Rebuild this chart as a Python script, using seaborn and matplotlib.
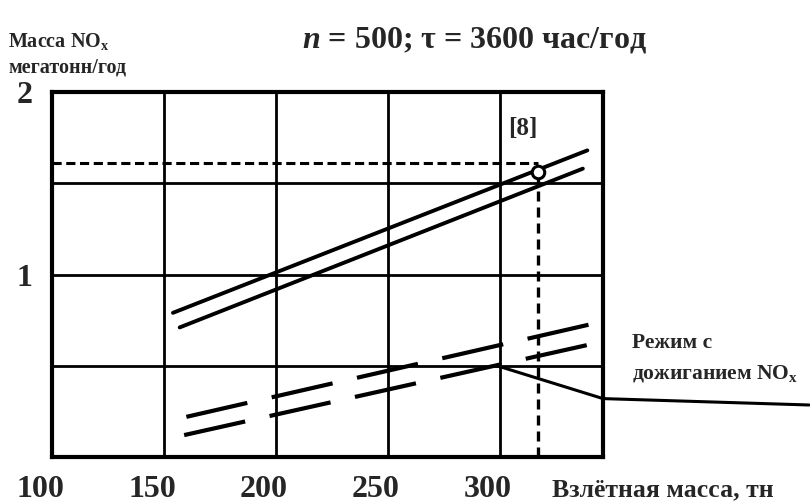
import matplotlib
matplotlib.use("Agg")
import matplotlib.pyplot as plt
import matplotlib.transforms as mtransforms
import pandas as pd
import seaborn as sns

# ---- data ----
solid_upper_x = [154, 339]
solid_upper_y = [0.79, 1.68]
solid_lower_x = [157, 337]
solid_lower_y = [0.71, 1.58]
dashed_upper_x = [160, 345]
dashed_upper_y = [0.22, 0.74]
dashed_lower_x = [159, 345]
dashed_lower_y = [0.12, 0.63]
design_x = [317]
design_y = [1.56]
design_level = 1.61
x_ticks = [100, 150, 200, 250, 300]
x_tick_labels = ["100", "150", "200", "250", "300"]
y_ticks = [1, 2]
y_tick_labels = ["1", "2"]
y_minor_grid = [0.5, 1.5]
leader_x = [298.7, 346, 438]
leader_y = [0.50, 0.32, 0.285]

sns.set_theme(style="white")
plt.rcParams["font.family"] = ["Liberation Serif", "DejaVu Serif"]
plt.rcParams["font.weight"] = "bold"
plt.rcParams["mathtext.fontset"] = "custom"
plt.rcParams["mathtext.rm"] = "Liberation Serif:bold"
plt.rcParams["mathtext.it"] = "Liberation Serif:italic:bold"
plt.rcParams["mathtext.bf"] = "Liberation Serif:bold"

fig = plt.figure(figsize=(8.1, 5.03), dpi=100)
ax = fig.add_axes([52 / 810, 1 - 457 / 503, (603 - 52) / 810, (457 - 92) / 503])

def df(x, y):
    return pd.DataFrame({"x": x, "y": y})

sns.lineplot(data=df(solid_upper_x, solid_upper_y), x="x", y="y", ax=ax,
             color="black", lw=2.8, sort=False, estimator=None, zorder=3)
sns.lineplot(data=df(solid_lower_x, solid_lower_y), x="x", y="y", ax=ax,
             color="black", lw=2.8, sort=False, estimator=None, zorder=3)
sns.lineplot(data=df(dashed_upper_x, dashed_upper_y), x="x", y="y", ax=ax,
             color="black", lw=3.0, sort=False, estimator=None, zorder=3,
             linestyle=(0, (15, 6)))
sns.lineplot(data=df(dashed_lower_x, dashed_lower_y), x="x", y="y", ax=ax,
             color="black", lw=3.0, sort=False, estimator=None, zorder=3,
             linestyle=(0, (15, 6)))

# design point with its dashed reference lines
ax.plot([100, design_x[0]], [design_level, design_level], color="black",
        lw=2.2, linestyle=(0, (3, 1.5)), zorder=2)
ax.plot([design_x[0], design_x[0]], [0, design_y[0]], color="black",
        lw=2.4, linestyle=(0, (3, 1.8)), zorder=2)
ax.plot(design_x, design_y, "o", mfc="white", mec="black", ms=9, mew=2.2, zorder=6)

# leader line for the annotation
ax.plot(leader_x, leader_y, color="black", lw=2.2, clip_on=False, zorder=4)

ax.set_xlim(100, 346)
ax.set_ylim(0, 2)
ax.set_xticks(x_ticks)
ax.set_xticklabels(x_tick_labels, fontsize=23, fontweight="bold")
ax.set_yticks(y_ticks)
ax.set_yticklabels(y_tick_labels, fontsize=23, fontweight="bold")
ax.set_yticks(y_minor_grid, minor=True)
ax.tick_params(axis="both", which="both", length=0)
ax.tick_params(axis="x", pad=13)
ax.tick_params(axis="y", pad=14)
ax.grid(True, which="both", color="black", lw=2.0)
ax.set_axisbelow(True)
ax.set_xlabel("")
ax.set_ylabel("")
for s in ax.spines.values():
    s.set_visible(True)
    s.set_color("black")
    s.set_linewidth(3)

shift = mtransforms.ScaledTranslation(-0.12, 0, fig.dpi_scale_trans)
for lbl in ax.get_xticklabels():
    lbl.set_transform(lbl.get_transform() + shift)

ax.text(310, 1.80, "[8]", ha="center", va="center", fontsize=18, fontweight="bold")

fig.text(475 / 810, 1 - 40 / 503, r"$\mathit{n}$ = 500; τ = 3600 час/год",
         ha="center", va="center", fontsize=23, fontweight="bold")
fig.text(8 / 810, 1 - 42 / 503, r"Масса NO$_\mathregular{x}$",
         ha="left", va="center", fontsize=14.5, fontweight="bold")
fig.text(8 / 810, 1 - 67 / 503, "мегатонн/год",
         ha="left", va="center", fontsize=14.5, fontweight="bold")
fig.text(552 / 810, 1 - 490 / 503, "Взлётная масса, тн",
         ha="left", va="center", fontsize=18.5, fontweight="bold")
fig.text(632 / 810, 1 - 343 / 503, "Режим с",
         ha="left", va="center", fontsize=15.5, fontweight="bold")
fig.text(632 / 810, 1 - 373 / 503, r"дожиганием NO$_\mathregular{x}$",
         ha="left", va="center", fontsize=15.5, fontweight="bold")

fig.savefig("out.png", dpi=100, facecolor="white")
